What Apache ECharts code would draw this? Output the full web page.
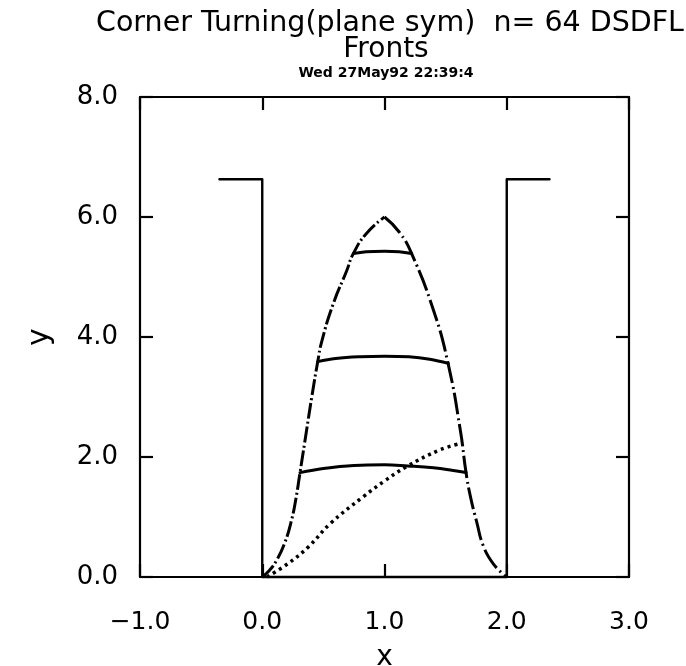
<!DOCTYPE html>
<html>
<head>
<meta charset="utf-8">
<script src="https://cdn.jsdelivr.net/npm/echarts@6/dist/echarts.min.js"></script>
<style>
html,body{margin:0;padding:0;background:#fff;}
#chart{width:686px;height:666px;}
</style>
</head>
<body>
<div id="chart"></div>
<script>
// ---- data ----
const titleLine1 = "Corner Turning(plane sym)  n= 64 DSDFL";
const titleLine2 = "Fronts";
const titleLine3 = "Wed 27May92 22:39:4";
const xTicks = [-1, 0, 1, 2, 3];
const yTicks = [0, 2, 4, 6, 8];
const xName = "x";
const yName = "y";

// channel walls (corner geometry)
const wallX = [-0.35, 0.0, 0.0, 2.0, 2.0, 2.35];
const wallY = [6.63, 6.63, 0.0, 0.0, 6.63, 6.63];

// outer envelope (dash-dot), left and right halves
const envLeftX = [0.0, 0.05, 0.118, 0.186, 0.24, 0.275, 0.309, 0.363, 0.405, 0.454, 0.486, 0.58, 0.69, 0.745, 0.854, 1.0];
const envLeftY = [0.0, 0.09, 0.28, 0.58, 0.95, 1.3, 1.74, 2.45, 3.0, 3.59, 3.92, 4.55, 5.1, 5.39, 5.73, 6.0];
const envRightX = [1.0, 1.12, 1.222, 1.4, 1.52, 1.62, 1.667, 1.705, 1.754, 1.808, 1.89, 2.0];
const envRightY = [6.0, 5.75, 5.39, 4.45, 3.56, 2.45, 1.74, 1.32, 0.92, 0.52, 0.22, 0.0];

// fronts (solid)
const front1X = [0.745, 0.85, 1.0, 1.12, 1.222];
const front1Y = [5.39, 5.42, 5.43, 5.42, 5.39];
const front2X = [0.454, 0.6, 0.8, 1.0, 1.2, 1.37, 1.522];
const front2Y = [3.59, 3.64, 3.67, 3.68, 3.67, 3.63, 3.56];
const front3X = [0.309, 0.5, 0.75, 1.0, 1.19, 1.4, 1.55, 1.667];
const front3Y = [1.74, 1.81, 1.86, 1.87, 1.85, 1.82, 1.78, 1.74];

// dotted trajectory
const dotX = [0.04, 0.215, 0.377, 0.556, 0.827, 1.0, 1.18, 1.454, 1.63];
const dotY = [0.0, 0.23, 0.5, 0.89, 1.34, 1.6, 1.84, 2.12, 2.23];

const zip = (xs, ys) => xs.map((x, i) => [x, ys[i]]);
const FONT = "DejaVu Sans";
const fmt = v => v.toFixed(1).replace('-', '\u2212');

const chart = echarts.init(document.getElementById('chart'), null, {renderer: 'canvas'});

const axisLine = {show: true, onZero: false, lineStyle: {color: '#000', width: 2.2}};
const axisTick = {show: true, inside: true, length: 13, lineStyle: {color: '#000', width: 2.2}};

function lineSeries(xs, ys, style, smooth) {
  return {
    type: 'line', data: zip(xs, ys), showSymbol: false, symbol: 'none',
    smooth: smooth || false, animation: false, z: 3, clip: false,
    lineStyle: Object.assign({color: '#000', width: 3, cap: 'round', join: 'round'}, style)
  };
}

chart.setOption({
  animation: false,
  backgroundColor: '#fff',
  grid: {left: 140, right: 57, top: 97, bottom: 89, containLabel: false, outerBoundsMode: 'none'},
  graphic: [
    {type: 'text', x: 390, y: 24, style: {text: titleLine1, font: '28.5px "' + FONT + '"', fill: '#000', textAlign: 'center', textVerticalAlign: 'middle'}},
    {type: 'text', x: 386, y: 50, style: {text: titleLine2, font: '28px "' + FONT + '"', fill: '#000', textAlign: 'center', textVerticalAlign: 'middle'}},
    {type: 'text', x: 386, y: 73, style: {text: titleLine3, font: 'bold 14px "' + FONT + '"', fill: '#000', textAlign: 'center', textVerticalAlign: 'middle'}}
  ],
  xAxis: [
    {type: 'value', position: 'bottom', min: xTicks[0], max: xTicks[xTicks.length - 1], interval: 1,
     axisLine: axisLine, axisTick: axisTick, splitLine: {show: false},
     axisLabel: {formatter: fmt, margin: 45, color: '#000', fontFamily: FONT, fontSize: 25, verticalAlign: 'middle'},
     name: xName, nameLocation: 'middle', nameGap: 67,
     nameTextStyle: {color: '#000', fontFamily: FONT, fontSize: 28}},
    {type: 'value', position: 'top', min: xTicks[0], max: xTicks[xTicks.length - 1], interval: 1,
     axisLine: axisLine, axisTick: axisTick, splitLine: {show: false}, axisLabel: {show: false}}
  ],
  yAxis: [
    {type: 'value', position: 'left', min: yTicks[0], max: yTicks[yTicks.length - 1], interval: 2,
     axisLine: axisLine, axisTick: axisTick, splitLine: {show: false},
     axisLabel: {formatter: fmt, margin: 22, color: '#000', fontFamily: FONT, fontSize: 26},
     name: yName, nameLocation: 'middle', nameGap: 85,
     nameTextStyle: {color: '#000', fontFamily: FONT, fontSize: 30}},
    {type: 'value', position: 'right', min: yTicks[0], max: yTicks[yTicks.length - 1], interval: 2,
     axisLine: axisLine, axisTick: axisTick, splitLine: {show: false}, axisLabel: {show: false}}
  ],
  series: [
    lineSeries(wallX, wallY, {width: 2.4}),
    lineSeries(envLeftX, envLeftY, {type: [16, 3, 2, 3], width: 3, cap: 'butt'}, 0.5),
    lineSeries(envRightX, envRightY, {type: [22, 4, 2, 4], width: 3, cap: 'butt'}, 0.5),
    lineSeries(front1X, front1Y, {width: 3}, 0.4),
    lineSeries(front2X, front2Y, {width: 3}, 0.4),
    lineSeries(front3X, front3Y, {width: 3}, 0.4),
    lineSeries(dotX, dotY, {type: [3, 4], width: 3.5, cap: 'butt'}, 0.4)
  ]
});
</script>
</body>
</html>
